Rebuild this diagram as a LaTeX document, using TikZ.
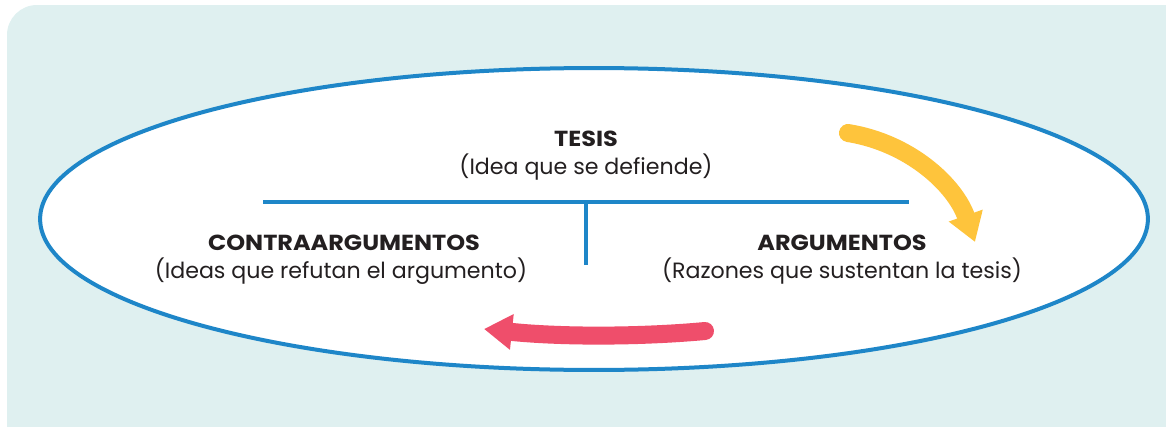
\documentclass[tikz,border=0pt]{standalone}
\usepackage{fontspec}
\setmainfont{Poppins}
\newfontfamily\headfont[FakeStretch=1.1]{Poppins}
\usetikzlibrary{arrows.meta, positioning}
\definecolor{panel}{HTML}{DFF0F0}
\definecolor{ringblue}{HTML}{1E86C8}
\definecolor{swingyellow}{HTML}{FEC43C}
\definecolor{swingred}{HTML}{EF4E6B}
\definecolor{ink}{HTML}{231F20}

\begin{document}
\begin{tikzpicture}[x=0.02cm, y=-0.02cm, thick]
    \tikzstyle{heading}=[font=\headfont\bfseries\fontsize{12.4}{14}\selectfont,
                       text=ink,
                       inner sep=0pt,
                       anchor=base]
    \tikzstyle{note}=[font=\fontsize{12.6}{14}\selectfont,
                       text=ink,
                       inner sep=0pt,
                       anchor=base]
    \tikzstyle{bar}=[draw=ringblue, line width=0.08cm]
    \tikzstyle{swing}=[line width=0.36cm, line cap=round,
                       -{Triangle[width=0.68cm, length=0.56cm]}]
    \useasboundingbox (0,0) rectangle (1166,426);
    \fill[panel, rounded corners=0.6cm] (7,5) rectangle (1220,480);
    \draw[ringblue, line width=0.08cm, fill=white] (594,219) ellipse [x radius=11.08cm, y radius=3.02cm];

    \node[heading] (T)  at (586,146) {TESIS};
    \node[note]    (Tn) at (586,174) {(Idea que se defiende)};
    \node[heading] (C)  at (344,250) {CONTRAARGUMENTOS};
    \node[note]    (Cn) at (341,278) {(Ideas que refutan el argumento)};
    \node[heading] (A)  at (842,250) {ARGUMENTOS};
    \node[note]    (An) at (842,278) {(Razones que sustentan la tesis)};

    \coordinate (barL) at (263,202);
    \coordinate (barR) at (909,202);
    \coordinate (barM) at (586,202);
    \coordinate (stem) at (586,265);
    \path[bar] (barL) -- (barR)
               (barM) -- (stem);

    \coordinate (Y1) at (848,133);
    \coordinate (Y2) at (975,242);
    \coordinate (R1) at (705,331);
    \coordinate (R2) at (484,329);
    \draw[swing, swingyellow] (Y1) .. controls (910,143) and (955,185) .. (Y2);
    \draw[swing, swingred] (R1) .. controls (640,337) and (560,337) .. (R2);
\end{tikzpicture}
\end{document}
